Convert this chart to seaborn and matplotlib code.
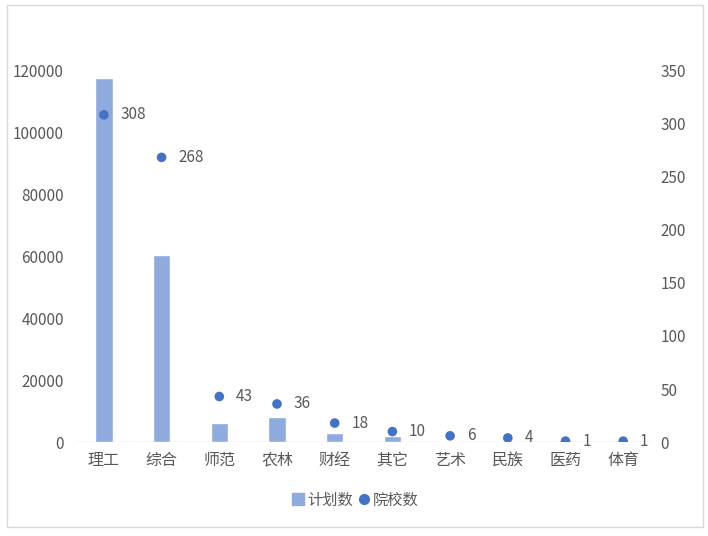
import matplotlib
matplotlib.use("Agg")
import matplotlib.pyplot as plt
from matplotlib.lines import Line2D
from matplotlib.patches import Rectangle
import seaborn as sns
import pandas as pd

## data
categories = ['理工', '综合', '师范', '农林', '财经', '其它', '艺术', '民族', '医药', '体育']
plan_counts = [117500, 60300, 6100, 8000, 3000, 1950, 420, 380, 80, 80]
school_counts = [308, 268, 43, 36, 18, 10, 6, 4, 1, 1]

df = pd.DataFrame({'类别': categories, '计划数': plan_counts, '院校数': school_counts})

sns.set_theme(style="white")
plt.rcParams['font.family'] = ['Noto Sans CJK SC', 'DejaVu Sans']

bar_color = '#8FAADC'
dot_color = '#4472C4'
text_color = '#595959'

fig = plt.figure(figsize=(7.08, 5.36), dpi=100)
ax = fig.add_axes([0.106, 0.175, 0.815, 0.694])

sns.barplot(data=df, x='类别', y='计划数', color=bar_color, width=0.3,
            saturation=1, ax=ax)
ax.set_ylim(0, 120000)
ax.set_xlim(-0.5, len(categories) - 0.5)
ax.set_yticks(range(0, 120001, 20000))
ax.set_xlabel('')
ax.set_ylabel('')

ax2 = ax.twinx()
sns.scatterplot(x=range(len(categories)), y=df['院校数'], color=dot_color,
                s=48, edgecolor='none', ax=ax2, zorder=3)
ax2.set_ylim(0, 350)
ax2.set_yticks(range(0, 351, 50))
ax2.set_ylabel('')

## data labels to the right of each dot
for i, v in enumerate(school_counts):
    ax2.annotate(str(v), xy=(i, v), xytext=(12, 0), textcoords='offset points',
                 va='center', ha='left', fontsize=11, color=text_color)

for a in (ax, ax2):
    for s in a.spines.values():
        s.set_visible(False)
    a.tick_params(length=0, labelsize=11, colors=text_color)
ax.tick_params(axis='y', pad=8)
ax.tick_params(axis='x', pad=7, labelsize=11.5)
ax2.tick_params(axis='y', pad=6)
ax.axhline(0, color='#D9D9D9', lw=1, zorder=0)

## legend below the chart
handles = [Line2D([], [], marker='s', ls='none', color=bar_color, markersize=8),
           Line2D([], [], marker='o', ls='none', color=dot_color, markersize=7)]
fig.legend(handles, ['计划数', '院校数'], loc='center', bbox_to_anchor=(0.502, 0.067),
           ncol=2, frameon=False, handlelength=0.8, handletextpad=0.2,
           columnspacing=0.3, labelcolor=text_color, prop={'size': 11})

## outer frame
fig.patches.append(Rectangle((0.01, 0.017), 0.983, 0.974, transform=fig.transFigure,
                             fill=False, edgecolor='#D9D9D9', lw=1))

fig.savefig('out.png', dpi=100)
